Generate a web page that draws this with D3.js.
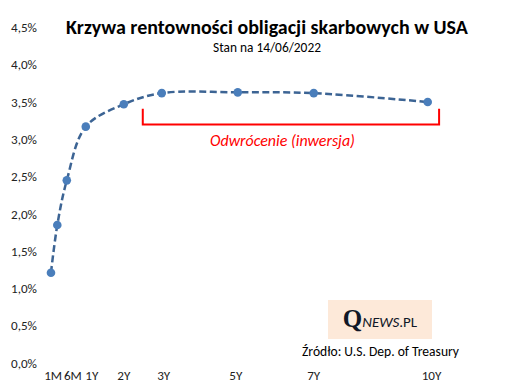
<!DOCTYPE html>
<html>
<head>
<meta charset="utf-8">
<script src="https://cdn.jsdelivr.net/npm/d3@7"></script>
<style>
  html, body { margin: 0; padding: 0; background: #fff; }
  svg { display: block; font-family: Carlito, Calibri, Lato, sans-serif; }
</style>
</head>
<body>
<svg id="chart" width="506" height="390"></svg>
<script>
// Yield curve data (maturity in years, yield in %)
const maturities = [1 / 12, 3 / 12, 6 / 12, 1, 2, 3, 5, 7, 10];
const yields = [1.21, 1.85, 2.45, 3.17, 3.47, 3.62, 3.63, 3.62, 3.50];

// X tick labels and where they sit (in years, nudged apart for short maturities)
const xTickLabels = ["1M", "6M", "1Y", "2Y", "3Y", "5Y", "7Y", "10Y"];
const xTickAt = [0.14, 0.66, 1.16, 2.0, 3.05, 4.95, 7.0, 10.1];

const yTicks = [0, 0.5, 1, 1.5, 2, 2.5, 3, 3.5, 4, 4.5];

// Inversion bracket (years / %)
const bracketFrom = 2.5, bracketTo = 10.3;
const bracketTop = 3.41, bracketBottom = 3.20;

const svg = d3.select("#chart");

const x = d3.scaleLinear().domain([0, 10]).range([47.8, 427.7]);
const y = d3.scaleLinear().domain([0, 4.5]).range([363, 27.5]);

const plLocale = d3.formatLocale({ decimal: ",", thousands: " ", grouping: [3], currency: ["", " zł"] });
const pct = plLocale.format(".1f");

// fit text to a target width by scaling its font-size
function fitWidth(sel, target) {
  const w = sel.node().getComputedTextLength();
  const fs = parseFloat(sel.attr("font-size"));
  sel.attr("font-size", (fs * target / w).toFixed(2));
}

// work out tick font size from the widest y label (~26px in the source)
const probe = svg.append("text").attr("font-size", 12).text("4,5%");
fitWidth(probe, 26);
const tickFs = +probe.attr("font-size");
probe.remove();

// ---- Y axis ----
const yAxis = svg.append("g")
  .attr("transform", "translate(41,0)")
  .call(d3.axisLeft(y).tickValues(yTicks).tickSize(0).tickPadding(4)
    .tickFormat(d => pct(d) + "%"));
yAxis.select(".domain").remove();
yAxis.selectAll("text")
  .attr("font-size", tickFs)
  .attr("font-family", "Carlito, Calibri, Lato, sans-serif")
  .attr("fill", "#222");

// ---- X tick labels ----
svg.append("g").selectAll("text")
  .data(xTickLabels)
  .join("text")
  .attr("x", (d, i) => x(xTickAt[i]))
  .attr("y", 379.5)
  .attr("text-anchor", "middle")
  .attr("font-size", tickFs)
  .attr("fill", "#222")
  .text(d => d);

// ---- Title ----
const title = svg.append("text")
  .attr("x", 267).attr("y", 34)
  .attr("text-anchor", "middle")
  .attr("font-weight", "bold")
  .attr("font-size", 18)
  .attr("fill", "#000")
  .text("Krzywa rentowności obligacji skarbowych w USA");
fitWidth(title, 402);

const subtitle = svg.append("text")
  .attr("x", 267).attr("y", 52)
  .attr("text-anchor", "middle")
  .attr("font-size", 11)
  .attr("fill", "#000")
  .text("Stan na 14/06/2022");
fitWidth(subtitle, 108);

// ---- Inversion bracket ----
const bracket = d3.line()([
  [x(bracketFrom), y(bracketTop)],
  [x(bracketFrom), y(bracketBottom)],
  [x(bracketTo), y(bracketBottom)],
  [x(bracketTo), y(bracketTop)]
]);
svg.append("path")
  .attr("d", bracket)
  .attr("fill", "none")
  .attr("stroke", "#ff0000")
  .attr("stroke-width", 2);

const note = svg.append("text")
  .attr("x", 282.5).attr("y", 146)
  .attr("text-anchor", "middle")
  .attr("font-style", "italic")
  .attr("font-size", 13)
  .attr("fill", "#ff0000")
  .text("Odwrócenie (inwersja)");
fitWidth(note, 145);

// ---- Curve ----
const pts = maturities.map((m, i) => ({ m, v: yields[i] }));
const line = d3.line()
  .x(d => x(d.m))
  .y(d => y(d.v))
  .curve(d3.curveCatmullRom.alpha(0.5));

svg.append("path")
  .datum(pts)
  .attr("d", line)
  .attr("fill", "none")
  .attr("stroke", "#3c6494")
  .attr("stroke-width", 2.5)
  .attr("stroke-dasharray", "7,3.5");

svg.append("g").selectAll("circle")
  .data(pts)
  .join("circle")
  .attr("cx", d => x(d.m))
  .attr("cy", d => y(d.v))
  .attr("r", 4.3)
  .attr("fill", "#4a7ebb");

// ---- Logo box ----
svg.append("rect")
  .attr("x", 328).attr("y", 300)
  .attr("width", 104).attr("height", 39)
  .attr("fill", "#fde9d9");

const logo = svg.append("text")
  .attr("x", 380).attr("y", 327)
  .attr("text-anchor", "middle")
  .attr("fill", "#111827");
logo.append("tspan")
  .attr("font-family", "'Liberation Serif', 'DejaVu Serif', serif")
  .attr("font-weight", "bold")
  .attr("font-size", 25)
  .text("Q");
logo.append("tspan")
  .attr("font-style", "italic")
  .attr("font-size", 15)
  .text("NEWS");
logo.append("tspan")
  .attr("font-size", 15)
  .text(".PL");

// ---- Source ----
const source = svg.append("text")
  .attr("x", 380.5).attr("y", 356)
  .attr("text-anchor", "middle")
  .attr("font-size", 12)
  .attr("fill", "#000")
  .text("Źródło: U.S. Dep. of Treasury");
fitWidth(source, 157);
</script>
</body>
</html>
